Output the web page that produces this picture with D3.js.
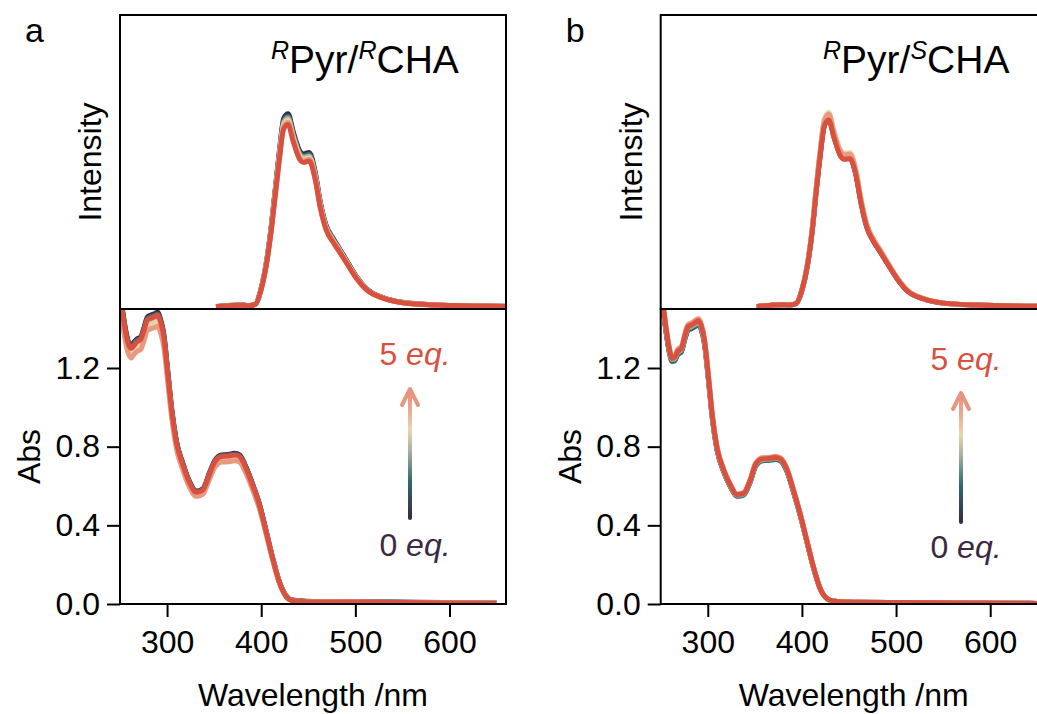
<!DOCTYPE html>
<html>
<head>
<meta charset="utf-8">
<script src="https://cdn.jsdelivr.net/npm/d3@7"></script>
<style>
  html, body { margin: 0; padding: 0; background: #fff; overflow: hidden; }
  svg { display: block; }
  text { font-family: "Liberation Sans", Arial, Helvetica, sans-serif; }
</style>
</head>
<body>
<svg id="fig" width="1037" height="714"></svg>
<script>
// ---------------- data ----------------
const eqLabels = ["0 eq.", "1 eq.", "2 eq.", "3 eq.", "4 eq.", "5 eq."];
const eqColors = ["#3b2944", "#2f6871", "#a3ad98", "#ebd0ae", "#e89a80", "#d9503e"];
const wavelengthTicks = [300, 400, 500, 600];
const absTicks = [0.0, 0.4, 0.8, 1.2];

// emission wavelengths (nm)
const emissionNm = [352, 380, 387, 394, 400, 406, 411, 415, 419, 424, 428.5, 434, 441, 445, 451, 457, 463, 469, 476, 483, 492, 501, 512, 530, 550, 585, 660];

// RPyr / RCHA emission, 0..5 eq.
const emissionRR = [
  [0.013, 0.020, 0.018, 0.026, 0.106, 0.254, 0.437, 0.616, 0.794, 0.974, 0.996, 0.904, 0.806, 0.791, 0.799, 0.707, 0.540, 0.426, 0.363, 0.309, 0.237, 0.166, 0.103, 0.057, 0.034, 0.021, 0.014],
  [0.012, 0.019, 0.017, 0.025, 0.105, 0.251, 0.432, 0.609, 0.785, 0.963, 0.984, 0.893, 0.797, 0.782, 0.790, 0.699, 0.533, 0.422, 0.359, 0.305, 0.234, 0.164, 0.101, 0.056, 0.033, 0.020, 0.013],
  [0.012, 0.019, 0.017, 0.025, 0.104, 0.248, 0.427, 0.602, 0.776, 0.953, 0.974, 0.884, 0.789, 0.774, 0.781, 0.691, 0.528, 0.417, 0.355, 0.302, 0.232, 0.162, 0.100, 0.056, 0.033, 0.020, 0.013],
  [0.012, 0.019, 0.017, 0.025, 0.102, 0.246, 0.422, 0.595, 0.767, 0.942, 0.963, 0.874, 0.780, 0.765, 0.772, 0.683, 0.522, 0.412, 0.351, 0.299, 0.229, 0.161, 0.099, 0.055, 0.033, 0.020, 0.013],
  [0.012, 0.019, 0.017, 0.025, 0.101, 0.243, 0.418, 0.589, 0.759, 0.932, 0.952, 0.864, 0.771, 0.757, 0.764, 0.676, 0.516, 0.408, 0.347, 0.296, 0.227, 0.159, 0.098, 0.055, 0.032, 0.020, 0.013],
  [0.012, 0.019, 0.017, 0.025, 0.100, 0.240, 0.413, 0.582, 0.750, 0.921, 0.941, 0.854, 0.762, 0.748, 0.755, 0.668, 0.510, 0.403, 0.343, 0.292, 0.224, 0.157, 0.097, 0.054, 0.032, 0.020, 0.013]
];

// RPyr / SCHA emission, 0..5 eq.
const emissionRS = [
  [0.012, 0.022, 0.020, 0.028, 0.095, 0.226, 0.402, 0.592, 0.768, 0.939, 0.968, 0.879, 0.783, 0.767, 0.770, 0.693, 0.537, 0.417, 0.346, 0.293, 0.223, 0.156, 0.092, 0.050, 0.030, 0.020, 0.014],
  [0.012, 0.022, 0.020, 0.028, 0.096, 0.228, 0.406, 0.599, 0.776, 0.949, 0.978, 0.888, 0.792, 0.775, 0.779, 0.700, 0.543, 0.421, 0.350, 0.296, 0.225, 0.157, 0.093, 0.051, 0.030, 0.020, 0.014],
  [0.012, 0.022, 0.020, 0.028, 0.098, 0.231, 0.411, 0.607, 0.786, 0.961, 0.991, 0.900, 0.802, 0.785, 0.788, 0.709, 0.550, 0.427, 0.355, 0.300, 0.228, 0.159, 0.095, 0.051, 0.030, 0.020, 0.014],
  [0.012, 0.022, 0.020, 0.028, 0.099, 0.234, 0.416, 0.614, 0.796, 0.972, 1.003, 0.910, 0.811, 0.795, 0.798, 0.718, 0.556, 0.432, 0.359, 0.304, 0.231, 0.161, 0.096, 0.052, 0.031, 0.020, 0.014],
  [0.012, 0.022, 0.020, 0.028, 0.098, 0.232, 0.412, 0.608, 0.788, 0.963, 0.993, 0.901, 0.803, 0.787, 0.790, 0.711, 0.551, 0.427, 0.355, 0.301, 0.229, 0.160, 0.095, 0.052, 0.031, 0.020, 0.014],
  [0.012, 0.022, 0.020, 0.028, 0.095, 0.225, 0.400, 0.590, 0.765, 0.935, 0.964, 0.875, 0.780, 0.764, 0.767, 0.690, 0.535, 0.415, 0.345, 0.292, 0.222, 0.155, 0.092, 0.050, 0.030, 0.020, 0.014]
];

// absorption wavelengths (nm)
const absorbanceNm = [250, 253, 256, 259, 262, 265, 268, 272, 276, 279, 283, 287, 290, 293, 296.5, 301, 305, 310, 317, 324, 331, 338, 345, 351, 358, 365, 372, 377, 384, 391, 398, 405, 412, 419, 426, 433, 448, 510, 650];

// RPyr / RCHA absorbance, 0..5 eq.
const absorbanceRR = [
  [1.576, 1.485, 1.394, 1.333, 1.313, 1.333, 1.348, 1.358, 1.414, 1.459, 1.470, 1.477, 1.483, 1.449, 1.374, 1.172, 0.990, 0.828, 0.712, 0.621, 0.574, 0.586, 0.667, 0.732, 0.758, 0.760, 0.766, 0.758, 0.695, 0.608, 0.510, 0.376, 0.237, 0.116, 0.044, 0.020, 0.014, 0.011, 0.005],
  [1.568, 1.477, 1.387, 1.327, 1.307, 1.327, 1.342, 1.352, 1.407, 1.452, 1.462, 1.469, 1.475, 1.442, 1.367, 1.166, 0.985, 0.824, 0.709, 0.618, 0.571, 0.583, 0.663, 0.729, 0.754, 0.756, 0.762, 0.754, 0.691, 0.605, 0.508, 0.374, 0.236, 0.116, 0.043, 0.019, 0.013, 0.010, 0.004],
  [1.544, 1.455, 1.366, 1.307, 1.287, 1.307, 1.322, 1.332, 1.386, 1.431, 1.440, 1.447, 1.453, 1.421, 1.346, 1.148, 0.970, 0.812, 0.698, 0.609, 0.562, 0.574, 0.653, 0.718, 0.743, 0.744, 0.750, 0.743, 0.681, 0.596, 0.500, 0.368, 0.233, 0.114, 0.042, 0.018, 0.012, 0.009, 0.004],
  [1.526, 1.438, 1.350, 1.291, 1.271, 1.291, 1.306, 1.315, 1.369, 1.413, 1.423, 1.430, 1.436, 1.403, 1.330, 1.134, 0.958, 0.802, 0.689, 0.601, 0.556, 0.567, 0.645, 0.709, 0.734, 0.735, 0.741, 0.734, 0.673, 0.589, 0.494, 0.364, 0.230, 0.112, 0.041, 0.018, 0.012, 0.009, 0.004],
  [1.501, 1.414, 1.328, 1.270, 1.251, 1.270, 1.284, 1.294, 1.347, 1.390, 1.400, 1.406, 1.412, 1.380, 1.308, 1.116, 0.943, 0.789, 0.678, 0.592, 0.546, 0.558, 0.635, 0.697, 0.722, 0.723, 0.729, 0.722, 0.662, 0.579, 0.486, 0.358, 0.226, 0.111, 0.041, 0.018, 0.012, 0.009, 0.004],
  [1.560, 1.470, 1.380, 1.320, 1.300, 1.315, 1.333, 1.345, 1.400, 1.445, 1.455, 1.462, 1.468, 1.435, 1.360, 1.160, 0.980, 0.820, 0.705, 0.615, 0.568, 0.580, 0.660, 0.725, 0.750, 0.752, 0.758, 0.750, 0.688, 0.602, 0.505, 0.372, 0.235, 0.115, 0.042, 0.018, 0.012, 0.009, 0.004]
];

// RPyr / SCHA absorbance, 0..5 eq.
const absorbanceRS = [
  [1.584, 1.485, 1.376, 1.287, 1.238, 1.242, 1.272, 1.287, 1.356, 1.396, 1.406, 1.418, 1.426, 1.401, 1.327, 1.129, 0.941, 0.782, 0.673, 0.598, 0.550, 0.556, 0.622, 0.705, 0.731, 0.733, 0.738, 0.731, 0.678, 0.572, 0.455, 0.323, 0.190, 0.082, 0.030, 0.015, 0.010, 0.007, 0.003],
  [1.578, 1.479, 1.371, 1.282, 1.233, 1.237, 1.267, 1.282, 1.351, 1.390, 1.400, 1.412, 1.420, 1.395, 1.321, 1.124, 0.937, 0.779, 0.670, 0.596, 0.548, 0.554, 0.619, 0.702, 0.728, 0.730, 0.735, 0.728, 0.675, 0.570, 0.454, 0.321, 0.189, 0.082, 0.030, 0.015, 0.010, 0.007, 0.003],
  [1.590, 1.491, 1.382, 1.292, 1.243, 1.247, 1.277, 1.292, 1.362, 1.402, 1.411, 1.423, 1.431, 1.407, 1.332, 1.133, 0.944, 0.785, 0.676, 0.600, 0.553, 0.559, 0.624, 0.708, 0.734, 0.736, 0.741, 0.734, 0.681, 0.575, 0.457, 0.324, 0.191, 0.083, 0.030, 0.015, 0.010, 0.007, 0.003],
  [1.605, 1.505, 1.394, 1.304, 1.254, 1.259, 1.289, 1.304, 1.374, 1.414, 1.424, 1.436, 1.444, 1.419, 1.344, 1.143, 0.953, 0.792, 0.682, 0.606, 0.558, 0.564, 0.630, 0.714, 0.740, 0.742, 0.747, 0.740, 0.687, 0.580, 0.461, 0.327, 0.193, 0.083, 0.030, 0.015, 0.010, 0.007, 0.003],
  [1.613, 1.512, 1.401, 1.310, 1.260, 1.265, 1.295, 1.310, 1.381, 1.421, 1.431, 1.443, 1.452, 1.426, 1.351, 1.149, 0.958, 0.796, 0.685, 0.609, 0.560, 0.567, 0.633, 0.718, 0.744, 0.746, 0.751, 0.744, 0.690, 0.583, 0.464, 0.329, 0.194, 0.084, 0.030, 0.015, 0.010, 0.007, 0.003],
  [1.600, 1.500, 1.390, 1.300, 1.250, 1.255, 1.285, 1.300, 1.370, 1.410, 1.420, 1.432, 1.440, 1.415, 1.340, 1.140, 0.950, 0.790, 0.680, 0.604, 0.556, 0.562, 0.628, 0.712, 0.738, 0.740, 0.745, 0.738, 0.685, 0.578, 0.460, 0.326, 0.192, 0.083, 0.030, 0.015, 0.010, 0.007, 0.003]
];

// ---------------- layout ----------------
const svg = d3.select("#fig");
const plotW = 386, topY = 15, midY = 309, botY = 604;
const fontSize = 32;

const panels = [
  { id: "a", x0: 120,   sup: ["R", "R"], emission: emissionRR, absorbance: absorbanceRR,
    titleX: 271, legend: { x: 410, tip: 389, tail: 518, hiY: 365, loY: 556 } },
  { id: "b", x0: 660.7, sup: ["R", "S"], emission: emissionRS, absorbance: absorbanceRS,
    titleX: 823, legend: { x: 961, tip: 393, tail: 522, hiY: 370, loY: 558 } }
];

const defs = svg.append("defs");

panels.forEach((p, pi) => {
  const g = svg.append("g");
  const x = d3.scaleLinear().domain([250, 660]).range([p.x0, p.x0 + plotW]);
  const yEm = d3.scaleLinear().domain([0, 1.5]).range([midY, topY]);
  const yAbs = d3.scaleLinear().domain([0, 1.5]).range([botY, midY]);

  // clip regions for the two stacked plots
  defs.append("clipPath").attr("id", `clipTop${pi}`)
    .append("rect").attr("x", p.x0).attr("y", topY).attr("width", plotW).attr("height", midY - topY);
  defs.append("clipPath").attr("id", `clipBot${pi}`)
    .append("rect").attr("x", p.x0).attr("y", midY).attr("width", plotW).attr("height", botY - midY);

  // emission spectra
  const lineEm = d3.line().x(d => x(d[0])).y(d => yEm(d[1])).curve(d3.curveMonotoneX);
  g.append("g").attr("clip-path", `url(#clipTop${pi})`)
    .selectAll("path").data(p.emission).join("path")
    .attr("d", vals => lineEm(d3.zip(emissionNm, vals)))
    .attr("fill", "none")
    .attr("stroke", (d, i) => eqColors[i])
    .attr("stroke-width", 5)
    .attr("stroke-linejoin", "round");

  // absorption spectra
  const lineAbs = d3.line().x(d => x(d[0])).y(d => yAbs(d[1])).curve(d3.curveMonotoneX);
  g.append("g").attr("clip-path", `url(#clipBot${pi})`)
    .selectAll("path").data(p.absorbance).join("path")
    .attr("d", vals => lineAbs(d3.zip(absorbanceNm, vals)))
    .attr("fill", "none")
    .attr("stroke", (d, i) => eqColors[i])
    .attr("stroke-width", 5)
    .attr("stroke-linejoin", "round");

  // frames
  [[topY, midY], [midY, botY]].forEach(([a, b]) => {
    g.append("rect").attr("x", p.x0).attr("y", a).attr("width", plotW).attr("height", b - a)
      .attr("fill", "none").attr("stroke", "#000").attr("stroke-width", 2);
  });

  // axes on the absorption plot
  const xAxis = d3.axisBottom(x).tickValues(wavelengthTicks).tickSize(13).tickPadding(13);
  const gx = g.append("g").attr("transform", `translate(0,${botY})`).call(xAxis);
  const yAxis = d3.axisLeft(yAbs).tickValues(absTicks).tickFormat(d3.format(".1f")).tickSize(13).tickPadding(7);
  const gy = g.append("g").attr("transform", `translate(${p.x0},0)`).call(yAxis);
  [gx, gy].forEach(ax => {
    ax.select(".domain").remove();
    ax.selectAll(".tick line").attr("stroke", "#000").attr("stroke-width", 2);
    ax.selectAll(".tick text").attr("fill", "#000").style("font-size", fontSize + "px")
      .style("font-family", '"Liberation Sans", Arial, sans-serif');
  });

  // axis titles
  g.append("text").attr("x", p.x0 + plotW / 2).attr("y", 706).attr("text-anchor", "middle")
    .style("font-size", fontSize + "px").text("Wavelength /nm");
  g.append("text").attr("transform", `translate(${p.x0 - 80},${(midY + botY) / 2}) rotate(-90)`)
    .attr("text-anchor", "middle").style("font-size", fontSize + "px").text("Abs");
  g.append("text").attr("transform", `translate(${p.x0 - 19},${(topY + midY) / 2}) rotate(-90)`)
    .attr("text-anchor", "middle").style("font-size", fontSize + "px").text("Intensity");

  // panel letter
  g.append("text").attr("x", p.x0 - 95).attr("y", 42).style("font-size", "34px").text(p.id);

  // title with stereo descriptors
  const t = g.append("text").attr("x", p.titleX).attr("y", 73).style("font-size", "39px");
  t.append("tspan").attr("dy", -14).style("font-size", "25px").style("font-style", "italic").text(p.sup[0]);
  t.append("tspan").attr("dy", 14).text("Pyr/");
  t.append("tspan").attr("dy", -14).style("font-size", "25px").style("font-style", "italic").text(p.sup[1]);
  t.append("tspan").attr("dy", 14).text("CHA");

  // titration arrow legend
  const L = p.legend;
  const grad = defs.append("linearGradient").attr("id", `arrowGrad${pi}`)
    .attr("gradientUnits", "userSpaceOnUse")
    .attr("x1", L.x).attr("x2", L.x).attr("y1", L.tail).attr("y2", L.tip);
  [[0, "#3a2a40"], [0.28, "#2e6870"], [0.52, "#a9b19c"], [0.68, "#ecd3b1"], [0.85, "#e9a78f"], [1, "#e58d77"]]
    .forEach(([o, c]) => grad.append("stop").attr("offset", o).attr("stop-color", c));
  g.append("line").attr("x1", L.x).attr("x2", L.x).attr("y1", L.tail).attr("y2", L.tip + 2)
    .attr("stroke", `url(#arrowGrad${pi})`).attr("stroke-width", 4).attr("stroke-linecap", "round");
  g.append("path").attr("d", `M${L.x - 8},${L.tip + 16} L${L.x},${L.tip} L${L.x + 8},${L.tip + 16}`)
    .attr("fill", "none").attr("stroke", "#e8957f").attr("stroke-width", 4)
    .attr("stroke-linecap", "round").attr("stroke-linejoin", "round");

  const hi = g.append("text").attr("x", L.x + 5).attr("y", L.hiY).attr("text-anchor", "middle")
    .style("font-size", fontSize + "px").attr("fill", eqColors[5]);
  hi.append("tspan").text(eqLabels[5].split(" ")[0] + " ");
  hi.append("tspan").style("font-style", "italic").text(eqLabels[5].split(" ")[1]);
  const lo = g.append("text").attr("x", L.x + 5).attr("y", L.loY).attr("text-anchor", "middle")
    .style("font-size", fontSize + "px").attr("fill", eqColors[0]);
  lo.append("tspan").text(eqLabels[0].split(" ")[0] + " ");
  lo.append("tspan").style("font-style", "italic").text(eqLabels[0].split(" ")[1]);
});
</script>
</body>
</html>
